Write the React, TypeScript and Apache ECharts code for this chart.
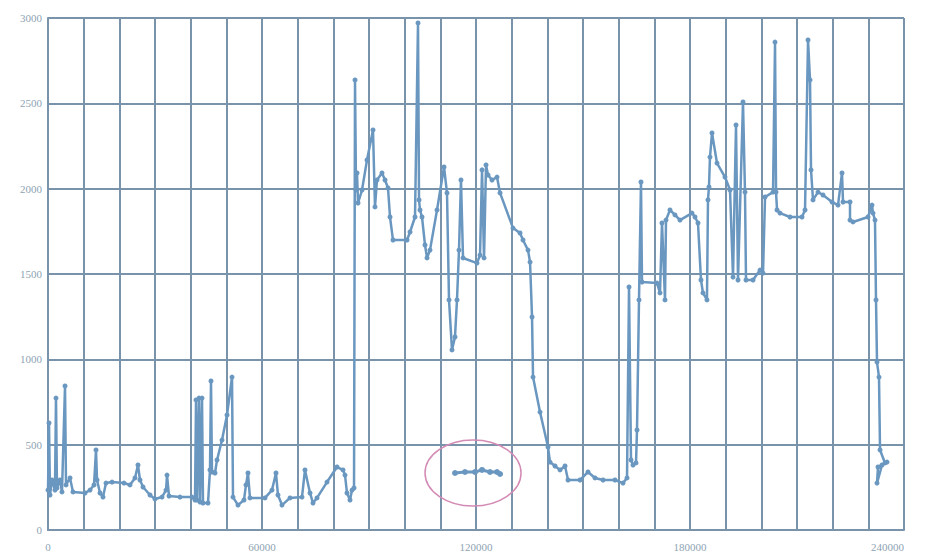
import React, { useEffect, useRef } from "react";
import * as echarts from "echarts";

// Main trace (in drawing order; x not monotonic)
const traceX = [
  0, 280, 560, 1120, 1960, 2240, 2520, 3360, 3920, 4770, 5050, 6170, 7010, 10370, 11780, 12900, 13460, 13740, 14580, 15420,
  16260, 17950, 21310, 22990, 24390, 25230, 25790, 26640, 28600, 30000, 31960, 33090, 33370, 33930, 37010, 40380,
  41220, 41500, 41780, 42340, 42620, 43180, 43460, 44860, 45420, 45700, 45980, 46820, 47390, 48790, 50190, 51590, 51870,
  53270, 54950, 55510, 56070, 56630, 60840, 62800, 63920, 64480, 65600, 67850, 71210, 72050, 73460, 74300, 75420, 78230,
  81030, 82710, 83270, 83830, 84670, 85240,
  85800, 86080, 86360, 86640, 86920, 88040, 89440, 91120, 91680, 92240, 93640, 94490, 95330, 95890, 96730, 100660,
  101500, 102900, 103740, 104020, 104300, 104860, 105700, 106270, 107100, 109070, 111030, 111870, 112430, 113270,
  114110, 114670, 115230, 115790, 116360, 120280, 121130, 121690, 122250, 122810, 123370, 124490, 125890, 126740,
  130380, 132340, 133180, 134580, 135150, 135710, 135990, 137950, 140190, 140750, 142150, 143560, 144960, 145800,
  149170, 151410, 153370, 155620, 158980, 161220, 162340, 162900, 163460, 164020, 164860, 165140, 165700, 166260,
  166540, 170750, 171590, 172150, 172990, 173270, 174390, 175790, 177190, 180560, 181400, 182240, 183080, 183640,
  184760, 185040, 185320, 185600, 186170, 187570, 189810, 191220, 192060, 192900, 193460, 194860, 195420, 195700,
  197670, 199630, 200470, 201040, 203280, 203840, 204120, 204400, 205240, 208040, 211400, 212250, 213090, 213650,
  213930, 214490, 215890, 217290, 219820, 221500, 222620, 222900, 224860, 224860, 225700, 229910, 231030, 231310,
  231870, 232150, 232430, 232990, 233280, 234680, 232710, 232430, 233840, 235240,
];
const traceY = [
  234, 627, 205, 293, 234, 773, 246, 293, 223, 844, 264, 305, 223, 217, 234, 264, 469, 293, 217, 193,
  275, 281, 275, 264, 305, 381, 293, 252, 205, 182, 193, 234, 322, 199, 193, 193,
  176, 762, 176, 773, 164, 773, 158, 158, 352, 873, 340, 334, 410, 527, 674, 896, 193,
  146, 176, 264, 334, 188, 188, 234, 334, 205, 146, 188, 193, 352, 217, 158, 188, 281,
  369, 352, 322, 217, 176, 234,
  246, 2637, 1992, 2092, 1916, 1992, 2168, 2344, 1893, 2051, 2092, 2051, 2004, 1834, 1699, 1699,
  1746, 1834, 2971, 1934, 1875, 1834, 1670, 1594, 1640, 1875, 2127, 1975, 1348, 1055,
  1131, 1348, 1640, 2051, 1594, 1564, 1611, 2110, 1594, 2139, 2080, 2051, 2068, 1975,
  1769, 1740, 1699, 1640, 1570, 1248, 896, 691, 486, 398, 375, 352, 375, 293,
  293, 340, 305, 293, 293, 275, 305, 1424, 410, 381, 393, 586, 1348, 2039,
  1453, 1447, 1389, 1799, 1348, 1816, 1875, 1846, 1816, 1857, 1834, 1799, 1465, 1389,
  1348, 1934, 2010, 2185, 2326, 2150, 2068, 1992, 1482, 2373, 1465, 2508, 1980, 1465,
  1465, 1523, 1505, 1951, 1980, 2859, 1980, 1875, 1857, 1834, 1834, 1875, 2871, 2637,
  2110, 1934, 1980, 1963, 1922, 1904, 2092, 1922, 1922, 1816, 1805, 1834, 1904, 1857,
  1816, 1348, 984, 896, 469, 393, 369, 275, 381, 398,
];

// Isolated segment (circled in the reference)
const circledX = [114110, 116920, 119720, 121690, 123930, 125890, 126740];
const circledY = [334, 340, 340, 352, 340, 340, 328];

// Centre of the hand-drawn ellipse annotation (data coordinates)
const ellipseCenter = [119170, 334];

const xLabelStep = 60000;

export default function App() {
  const ref = useRef<HTMLDivElement>(null);

  useEffect(() => {
    if (!ref.current) return;
    const chart = echarts.init(ref.current, null, { renderer: "svg" });
    const lineColor = "#6a97c0";
    const gridColor = "#7893aa";
    const labelStyle = {
      color: "#8ea3b3",
      fontFamily: "Liberation Serif",
      fontSize: 11,
    };
    chart.setOption({
      animation: false,
      backgroundColor: "#ffffff",
      grid: { left: 48, right: 22, top: 18, bottom: 28, containLabel: false },
      xAxis: {
        type: "value",
        min: 0,
        max: 240000,
        interval: 10000,
        axisLine: { show: true, lineStyle: { color: gridColor, width: 2 } },
        axisTick: { show: false },
        splitLine: { show: true, lineStyle: { color: gridColor, width: 2 } },
        axisLabel: {
          ...labelStyle,
          margin: 11,
          alignMaxLabel: "right",
          formatter: (v: number) => (v % xLabelStep === 0 ? String(v) : ""),
        },
      },
      yAxis: {
        type: "value",
        min: 0,
        max: 3000,
        interval: 500,
        axisLine: { show: true, lineStyle: { color: gridColor, width: 2 } },
        axisTick: { show: false },
        splitLine: { show: true, lineStyle: { color: gridColor, width: 2 } },
        axisLabel: { ...labelStyle, margin: 6, formatter: (v: number) => String(v) },
      },
      series: [
        {
          type: "line",
          data: traceX.map((x, i) => [x, traceY[i]]),
          showSymbol: true,
          showAllSymbol: true,
          symbol: "circle",
          symbolSize: 5,
          lineStyle: { color: lineColor, width: 2.5 },
          itemStyle: { color: lineColor },
        },
        {
          type: "line",
          data: circledX.map((x, i) => [x, circledY[i]]),
          showSymbol: true,
          symbol: "circle",
          symbolSize: 6,
          lineStyle: { color: lineColor, width: 3 },
          itemStyle: { color: lineColor },
        },
      ],
    });
    const c = chart.convertToPixel({ gridIndex: 0 }, ellipseCenter) as number[];
    chart.setOption({
      graphic: [
        {
          type: "ellipse",
          shape: { cx: c[0], cy: c[1], rx: 48, ry: 33 },
          style: { fill: "none", stroke: "#d38ab4", lineWidth: 1.5 },
          z: 100,
        },
      ],
    });
    return () => chart.dispose();
  }, []);

  return (
    <div
      ref={ref}
      style={{ position: "absolute", left: 0, top: 0, width: 926, height: 558 }}
    />
  );
}
